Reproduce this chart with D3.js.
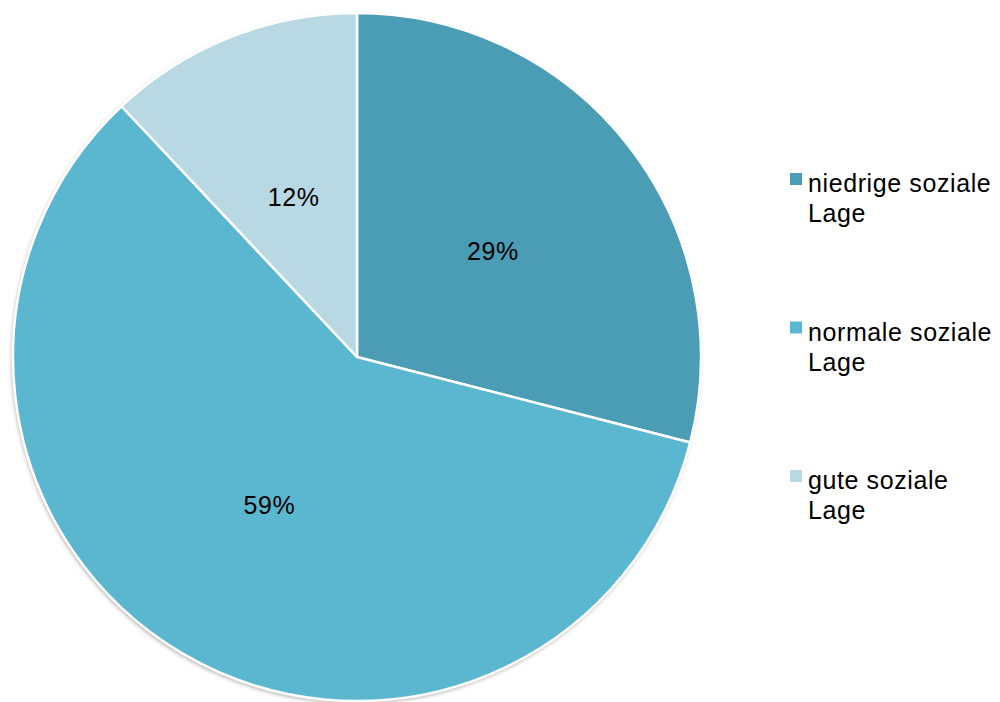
<!DOCTYPE html>
<html>
<head>
<meta charset="utf-8">
<script src="https://d3js.org/d3.v7.min.js"></script>
<style>
  body { margin: 0; background: #fff; }
  text { font-family: "Liberation Sans", Arial, sans-serif; fill: #000; }
</style>
</head>
<body>
<svg width="1000" height="702"></svg>
<script>
  var categories = ["niedrige soziale Lage", "normale soziale Lage", "gute soziale Lage"]
  var legendLines = [["niedrige soziale", "Lage"], ["normale soziale", "Lage"], ["gute soziale", "Lage"]]
  var values = [29, 59, 12]
  var colors = ["#4A9DB4", "#5BB7D0", "#B8D8E4"]

  var svg = d3.select("svg")
  var cx = 357, cy = 357, radius = 344

  var defs = svg.append("defs")
  var filter = defs.append("filter").attr("id", "shadow")
    .attr("x", "-10%").attr("y", "-10%").attr("width", "120%").attr("height", "120%")
  filter.append("feDropShadow")
    .attr("dx", -1).attr("dy", 2).attr("stdDeviation", 2)
    .attr("flood-color", "#000").attr("flood-opacity", 0.35)

  var color = d3.scaleOrdinal().domain(categories).range(colors)

  var pie = d3.pie().sort(null).value(d => d.value)
  var data = pie(categories.map((c, i) => ({name: c, value: values[i]})))

  var arc = d3.arc().innerRadius(0).outerRadius(radius)
  var labelArc = d3.arc().innerRadius(172).outerRadius(172)

  var g = svg.append("g").attr("transform", `translate(${cx},${cy})`)

  // shadow circle underneath
  g.append("circle").attr("r", radius)
    .style("fill", "#fff")
    .attr("filter", "url(#shadow)")

  g.selectAll("path.slice")
    .data(data)
    .enter()
    .append("path")
    .attr("class", "slice")
    .attr("d", arc)
    .style("fill", d => color(d.data.name))
    .style("stroke", "#fff")
    .style("stroke-width", 2.5)
    .style("stroke-linejoin", "round")

  var total = d3.sum(values)
  g.selectAll("text.pct")
    .data(data)
    .enter()
    .append("text")
    .attr("class", "pct")
    .attr("transform", d => `translate(${labelArc.centroid(d)})`)
    .attr("text-anchor", "middle")
    .attr("dy", "0.35em")
    .style("font-size", "25px")
    .style("letter-spacing", "0.6px")
    .text(d => Math.round(d.data.value / total * 100) + "%")

  // legend
  var legendY = d3.scalePoint().domain(categories).range([179, 476])
  var legend = svg.selectAll("g.legend")
    .data(categories)
    .enter()
    .append("g")
    .attr("class", "legend")
    .attr("transform", d => `translate(790,${legendY(d)})`)

  legend.append("rect")
    .attr("x", 0).attr("y", -6)
    .attr("width", 12).attr("height", 12)
    .style("fill", d => color(d))

  legend.append("text")
    .attr("x", 18)
    .attr("y", 13)
    .style("font-size", "25px")
    .style("letter-spacing", "0.6px")
    .selectAll("tspan")
    .data((d, i) => legendLines[i])
    .enter()
    .append("tspan")
    .attr("x", 18)
    .attr("dy", (d, i) => i === 0 ? 0 : 30)
    .text(d => d)
</script>
</body>
</html>
